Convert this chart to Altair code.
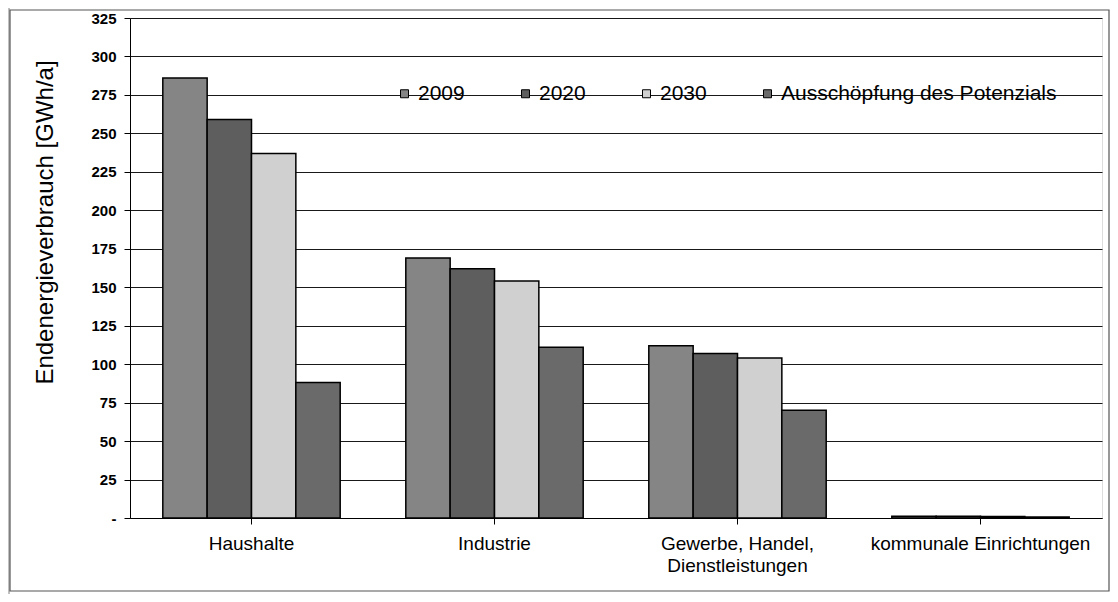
import altair as alt
import pandas as pd

categories = ["Haushalte", "Industrie", "Gewerbe, Handel, Dienstleistungen", "kommunale Einrichtungen"]
series = ["2009", "2020", "2030", "Ausschöpfung des Potenzials"]
v2009 = [286, 169, 112, 1.2]
v2020 = [259, 162, 107, 1.1]
v2030 = [237, 154, 104, 1.0]
vaus = [88, 111, 70, 0.7]
colors = ["#858585", "#5e5e5e", "#d0d0d0", "#6a6a6a"]
y_ticks = list(range(0, 326, 25))

rows = []
for s, vals in zip(series, [v2009, v2020, v2030, vaus]):
    for c, v in zip(categories, vals):
        rows.append({"Kategorie": c, "Serie": s, "Wert": v})
df = pd.DataFrame(rows)

W, H = 972, 500
font = "Liberation Sans"

bars = alt.Chart(df).mark_bar(stroke="black", strokeWidth=1.5).encode(
    x=alt.X("Kategorie:N", sort=categories,
            scale=alt.Scale(paddingInner=0.27, paddingOuter=0.135),
            axis=alt.Axis(title=None, labelAngle=0, labelFontSize=19, labelFont=font,
                          labelColor="black", labelPadding=10, tickSize=6, tickColor="black",
                          domainColor="black", labelLimit=400, labelLineHeight=22,
                          labelExpr="datum.value == 'Gewerbe, Handel, Dienstleistungen' ? ['Gewerbe, Handel,', 'Dienstleistungen'] : datum.value")),
    xOffset=alt.XOffset("Serie:N", sort=series, scale=alt.Scale(paddingInner=0, paddingOuter=0)),
    y=alt.Y("Wert:Q", scale=alt.Scale(domain=[0, 325], nice=False),
            axis=alt.Axis(title="Endenergieverbrauch [GWh/a]", values=y_ticks,
                          labelExpr="datum.value == 0 ? '-' : datum.label",
                          labelFontSize=15, labelFontWeight="bold", labelFont=font, labelColor="black",
                          labelPadding=8, tickSize=6, tickColor="black", domainColor="black",
                          gridColor="black", gridOpacity=0.9, gridWidth=1,
                          titleFont=font, titleFontSize=24, titleFontWeight="normal", titleColor="black",
                          titleX=-73, titleY=204, titleAngle=-90, titleBaseline="bottom")),
    color=alt.Color("Serie:N", sort=series, scale=alt.Scale(domain=series, range=colors),
                    legend=alt.Legend(title=None, orient="none", legendX=264, legendY=65,
                                      direction="horizontal", columns=4, symbolType="square",
                                      symbolSize=64, symbolStrokeColor="black", symbolStrokeWidth=1,
                                      labelFontSize=21, labelFont=font, labelColor="black",
                                      labelOffset=3, columnPadding=50, labelLimit=400)),
)

frame = alt.Chart(pd.DataFrame({"a": [0]})).mark_rect(
    fill="white", fillOpacity=0, stroke="#555555", strokeWidth=1.2
).encode(x=alt.value(-120), x2=alt.value(W + 7), y=alt.value(-8), y2=alt.value(H + 73))

strip = alt.Chart(pd.DataFrame({"a": [0]})).mark_rect(
    fill="#b0b0b0", opacity=0.8
).encode(x=alt.value(-122), x2=alt.value(-120), y=alt.value(-10), y2=alt.value(H + 76))

chart = alt.layer(strip, frame, bars).properties(
    width=W, height=H,
    autosize=alt.AutoSizeParams(type="none"),
    padding={"left": 122, "top": 10, "right": 8, "bottom": 76},
).configure_view(stroke=None).configure(background="white")

chart.save("out.html", embed_options={"renderer": "svg", "actions": False})
